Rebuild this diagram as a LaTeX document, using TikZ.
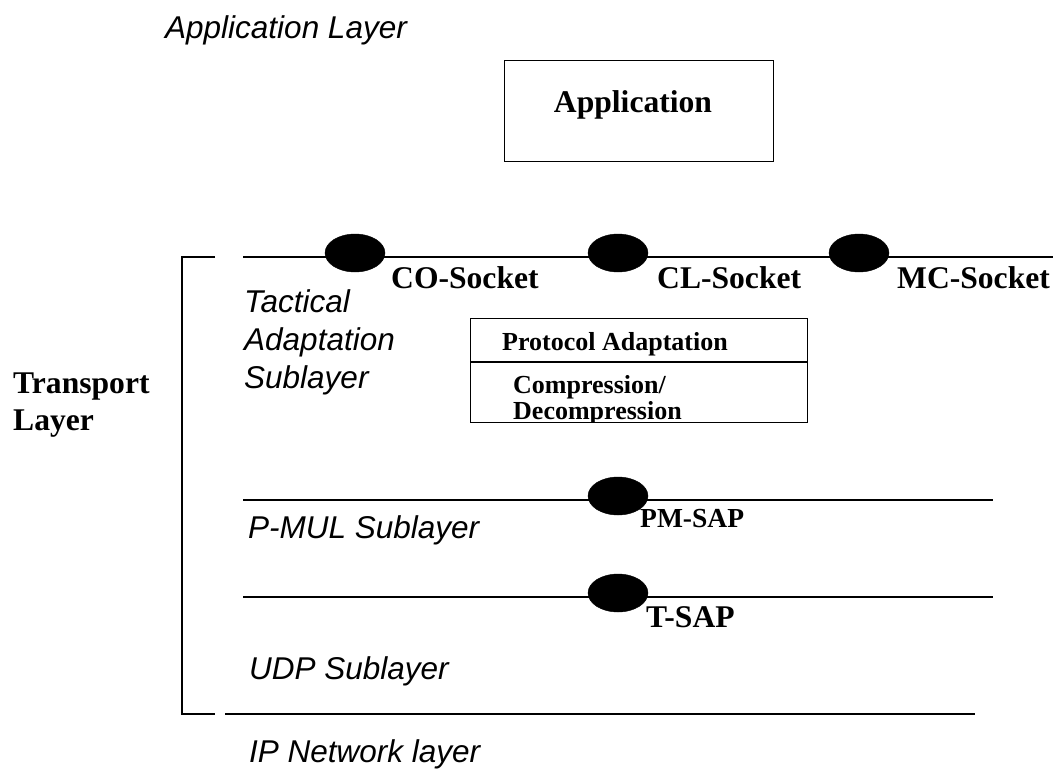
\documentclass[tikz,border=0pt]{standalone}
\usepackage{fontspec}
\setmainfont{Liberation Serif}
\newfontfamily\layerfont{Liberation Sans}
\usetikzlibrary{shapes.geometric}
\begin{document}
\begin{tikzpicture}[x=1pt,y=-1pt,
  layer/.style={line width=1.7pt},
  sock/.style={ellipse,fill=black,draw=black,minimum width=60pt,minimum height=38pt,inner sep=0pt},
  itxt/.style={inner sep=0pt,anchor=base west,font=\layerfont\itshape\fontsize{31.5}{38}\selectfont},
  btxt/.style={inner sep=0pt,anchor=base west,font=\bfseries\fontsize{31.6}{37}\selectfont},
  mtxt/.style={inner sep=0pt,anchor=base west,font=\bfseries\fontsize{27.5}{30}\selectfont},
  stxt/.style={inner sep=0pt,anchor=base west,font=\bfseries\fontsize{26}{27}\selectfont},
  boxed/.style={draw=black,line width=1.3pt,anchor=north west,inner sep=0pt}]
\useasboundingbox (0,0) rectangle (1055,772);
% application layer
\node[itxt] (applayer) at (165,38) {Application Layer};
\node[boxed,minimum width=269pt,minimum height=101pt] (appbox) at (504,60) {};
\node[btxt,anchor=base] (apptxt) at (633,112) {Application};
% socket line
\coordinate (l1a) at (243,257);
\coordinate (l1b) at (1053,257);
\draw[layer] (l1a) -- (l1b);
\node[sock] (co) at (355,253) {};
\node[sock] (cl) at (618,253) {};
\node[sock] (mc) at (859,253) {};
\node[btxt] (cotxt) at (391,288) {CO-Socket};
\node[btxt] (cltxt) at (657,288) {CL-Socket};
\node[btxt] (mctxt) at (897,288) {MC-Socket};
% tactical sublayer text
\node[itxt] (tac1) at (244,312) {Tactical};
\node[itxt] (tac2) at (244,350) {Adaptation};
\node[itxt] (tac3) at (244,388) {Sublayer};
% protocol box
\node[boxed,minimum width=337pt,minimum height=104pt] (pbox) at (470,318) {};
\coordinate (dva) at (470,362);
\coordinate (dvb) at (807,362);
\draw[line width=1.3pt] (dva) -- (dvb);
\node[stxt] (pa) at (502,350) {Protocol Adaptation};
\begin{scope}
\clip (470,362) rectangle (807,421);
\node[stxt] (cp1) at (513,393) {Compression/};
\node[stxt] (cp2) at (513,419) {Decompression};
\end{scope}
% transport bracket
\coordinate (bt1) at (215,257);
\coordinate (bt2) at (182,257);
\coordinate (bb2) at (182,714);
\coordinate (bb1) at (215,714);
\draw[line width=1.5pt] (bt1) -- (bt2) -- (bb2) -- (bb1);
\node[btxt] (tr1) at (13,393) {Transport};
\node[btxt] (tr2) at (13,430) {Layer};
% P-MUL line
\coordinate (l2a) at (243,500);
\coordinate (l2b) at (993,500);
\draw[layer] (l2a) -- (l2b);
\node[sock] (pm) at (618,496) {};
\node[mtxt] (pmtxt) at (640,527) {PM-SAP};
\node[itxt] (pmul) at (248,538) {P-MUL Sublayer};
% T-SAP line
\coordinate (l3a) at (243,597);
\coordinate (l3b) at (993,597);
\draw[layer] (l3a) -- (l3b);
\node[sock] (ts) at (618,593) {};
\node[btxt] (tstxt) at (646,627) {T-SAP};
\node[itxt] (udp) at (249,679) {UDP Sublayer};
% IP line
\coordinate (l4a) at (225,714);
\coordinate (l4b) at (975,714);
\draw[layer] (l4a) -- (l4b);
\node[itxt] (ip) at (249,762) {IP Network layer};
\end{tikzpicture}
\end{document}
